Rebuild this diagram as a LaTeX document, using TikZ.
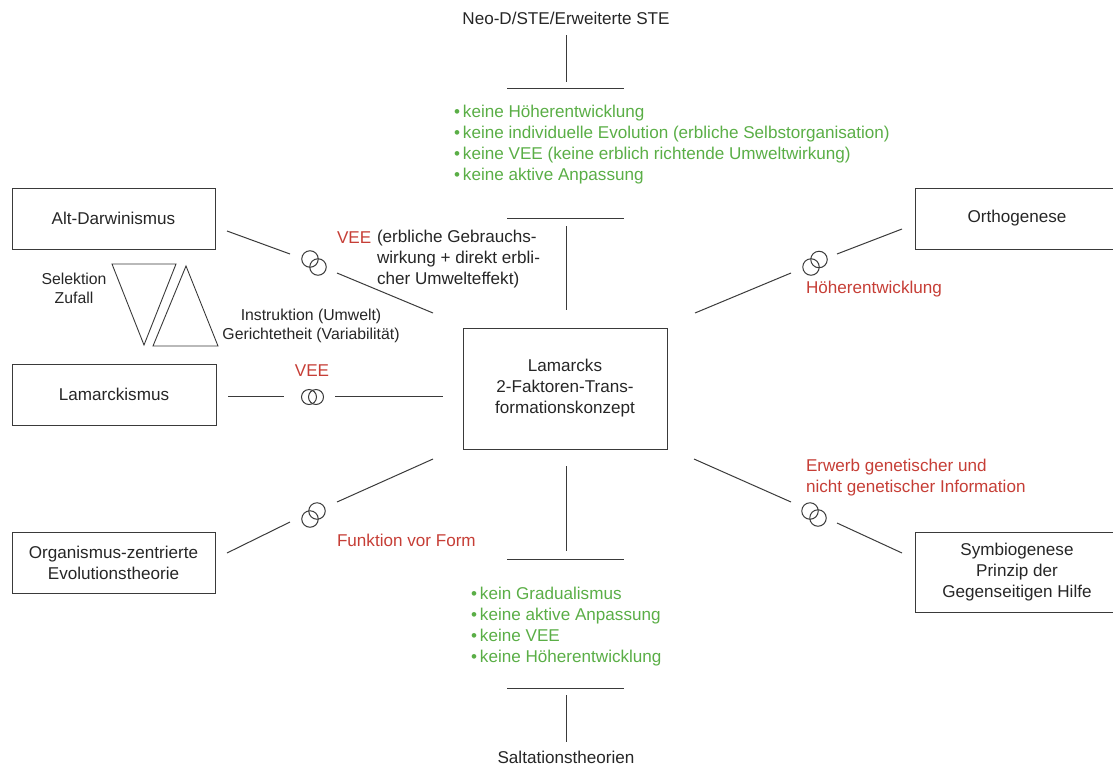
\documentclass[tikz,border=0pt]{standalone}
\usepackage{fontspec}
\setmainfont{Liberation Sans}
\definecolor{txt}{HTML}{262626}
\definecolor{grn}{HTML}{5AAE46}
\definecolor{rd}{HTML}{C63E36}
\definecolor{ln}{HTML}{3A3A3A}
\begin{document}
\begin{tikzpicture}[x=1pt,y=-1pt,
  font=\fontsize{17.1}{21}\selectfont,
  every node/.style={text=txt, inner sep=0pt, outer sep=0pt},
  box/.style={draw=ln, line width=0.9pt},
  conn/.style={draw=ln, line width=1pt},
  ring/.style={circle, draw=ln, line width=1pt, minimum size=16.5pt},
  green list/.style={text=grn, align=left, anchor=north west},
  redlabel/.style={text=rd},
  smalllabel/.style={align=center, font=\fontsize{15.8}{19}\selectfont}]
\useasboundingbox (0,0) rectangle (1113,766);

% boxes
\node[box, minimum width=203, minimum height=61] (alt) at (113.5,218.5) {Alt-Darwinismus};
\node[box, minimum width=204, minimum height=61] (lam) at (114,394.5) {Lamarckismus};
\node[box, minimum width=203, minimum height=61, align=center] (org) at (113.5,562.5) {Organismus-zentrierte\\Evolutionstheorie};
\node[box, minimum width=204, minimum height=61] (orth) at (1017,218.5) {Orthogenese};
\node[box, minimum width=204, minimum height=80, align=center] (sym) at (1017,572) {Symbiogenese\\Prinzip der\\Gegenseitigen Hilfe};
\node[box, minimum width=204, minimum height=121, align=center] (lk) at (565,388.5) {Lamarcks\\2-Faktoren-Trans-\\formationskonzept};

% top and bottom labels
\node (neo) at (566,18) {Neo-D/STE/Erweiterte STE};
\node (salt) at (566,757) {Saltationstheorien};

% vertical axis
\coordinate (n1) at (566,35);  \coordinate (n2) at (566,82);
\coordinate (b1l) at (507,88); \coordinate (b1r) at (624,88);
\coordinate (b2l) at (507,218); \coordinate (b2r) at (624,218);
\coordinate (n3) at (566,226); \coordinate (n4) at (566,310);
\coordinate (s1) at (566,466); \coordinate (s2) at (566,551);
\coordinate (b3l) at (507,559); \coordinate (b3r) at (624,559);
\coordinate (b4l) at (507,688); \coordinate (b4r) at (624,688);
\coordinate (s3) at (566,695); \coordinate (s4) at (566,742);
\draw[conn] (n1) -- (n2);
\draw[conn] (b1l) -- (b1r);
\draw[conn] (b2l) -- (b2r);
\draw[conn] (n3) -- (n4);
\draw[conn] (s1) -- (s2);
\draw[conn] (b3l) -- (b3r);
\draw[conn] (b4l) -- (b4r);
\draw[conn] (s3) -- (s4);

% green lists
\node[green list] (gtop) at (454,105.5) {\textbullet\kern3pt keine Höherentwicklung\\
\textbullet\kern3pt keine individuelle Evolution (erbliche Selbstorganisation)\\
\textbullet\kern3pt keine VEE (keine erblich richtende Umweltwirkung)\\
\textbullet\kern3pt keine aktive Anpassung};
\node[green list] (gbot) at (471,587.5) {\textbullet\kern3pt kein Gradualismus\\
\textbullet\kern3pt keine aktive Anpassung\\
\textbullet\kern3pt keine VEE\\
\textbullet\kern3pt keine Höherentwicklung};

% Alt-Darwinismus link
\coordinate (a1) at (227,231); \coordinate (a2) at (290,254);
\coordinate (a3) at (337,273); \coordinate (a4) at (433,313);
\draw[conn] (a1) -- (a2);
\draw[conn] (a3) -- (a4);
\node[ring] (ra1) at (310,259) {};
\node[ring] (ra2) at (318,267) {};
\node[redlabel, anchor=base west] (vee1) at (337,243) {VEE};
\node[anchor=north west, align=left] (vee1t) at (377,230.6) {(erbliche Gebrauchs-\\wirkung + direkt erbli-\\cher Umwelteffekt)};

% Lamarckismus link
\coordinate (l1) at (228,396); \coordinate (l2) at (284,396);
\coordinate (l3) at (335,396); \coordinate (l4) at (443,396);
\draw[conn] (l1) -- (l2);
\draw[conn] (l3) -- (l4);
\node[ring, minimum size=15pt] (rl1) at (309,397) {};
\node[ring, minimum size=15pt] (rl2) at (316,397) {};
\node[redlabel, anchor=base] (vee2) at (312,376) {VEE};

% Organismus link
\coordinate (o1) at (227,553); \coordinate (o2) at (290,522);
\coordinate (o3) at (337,502); \coordinate (o4) at (433,459);
\draw[conn] (o1) -- (o2);
\draw[conn] (o3) -- (o4);
\node[ring] (ro1) at (310,519) {};
\node[ring] (ro2) at (317,511) {};
\node[redlabel, anchor=base west] (fvf) at (337,546) {Funktion vor Form};

% Orthogenese link
\coordinate (t1) at (695,313); \coordinate (t2) at (791,273);
\coordinate (t3) at (837,254); \coordinate (t4) at (902,229);
\draw[conn] (t1) -- (t2);
\draw[conn] (t3) -- (t4);
\node[ring] (rt1) at (811,267) {};
\node[ring] (rt2) at (819,259.5) {};
\node[redlabel, anchor=base west] (hoe) at (806,293) {Höherentwicklung};

% Symbiogenese link
\coordinate (y1) at (694,459); \coordinate (y2) at (791,502);
\coordinate (y3) at (837,523); \coordinate (y4) at (902,553);
\draw[conn] (y1) -- (y2);
\draw[conn] (y3) -- (y4);
\node[ring] (ry1) at (810,511) {};
\node[ring] (ry2) at (818,518) {};
\node[redlabel, anchor=north west, align=left] (erw) at (806,458.7) {Erwerb genetischer und\\nicht genetischer Information};

% triangles
\coordinate (d1) at (112,264); \coordinate (d2) at (176,264); \coordinate (d3) at (144,345);
\coordinate (u1) at (153,346); \coordinate (u2) at (218,346); \coordinate (u3) at (186,266);
\draw[conn, line width=0.9pt, line join=miter] (d1) -- (d2) -- (d3) -- cycle;
\draw[conn, line width=0.9pt, line join=miter] (u1) -- (u2) -- (u3) -- cycle;
\node[smalllabel] (sel) at (74,288) {Selektion\\Zufall};
\node[smalllabel] (ins) at (311,326) {Instruktion (Umwelt)\\Gerichtetheit (Variabilität)};
\end{tikzpicture}
\end{document}
